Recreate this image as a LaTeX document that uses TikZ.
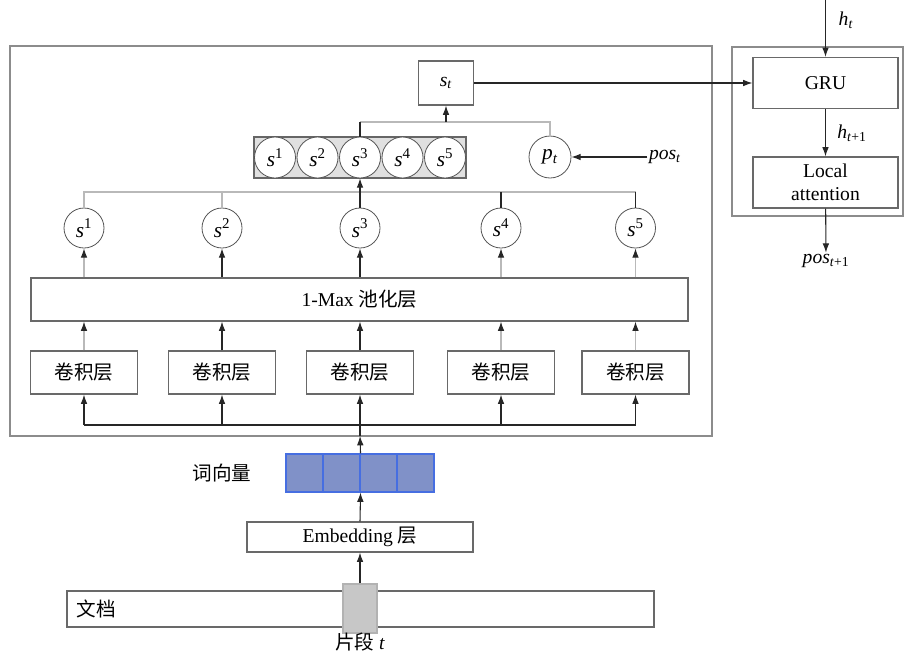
\documentclass[tikz,border=0pt]{standalone}
\usepackage{fontspec}
\setmainfont{Liberation Serif}
\newfontfamily\cjk{Noto Sans CJK SC}
\usepackage{tikz}
\usetikzlibrary{arrows.meta}
\newcommand{\sv}[1]{\textit{s}\textsuperscript{#1}}

\begin{document}
\begin{tikzpicture}[x=0.75pt,y=0.75pt,yscale=-1,xscale=1,
  font=\fontsize{14.7}{17}\selectfont,
  outerframe/.style={draw={rgb, 255:red, 140; green, 140; blue, 140 }, line width=1.1pt},
  layerbox/.style={draw={rgb, 255:red, 105; green, 105; blue, 105 }, line width=0.9pt, fill=white, inner sep=0pt},
  unit/.style={circle, draw={rgb, 255:red, 85; green, 85; blue, 85 }, line width=0.6pt, fill=white, minimum size=30pt, inner sep=0pt, font=\fontsize{16}{18}\selectfont},
  wvcell/.style={draw={rgb, 255:red, 70; green, 110; blue, 225 }, fill={rgb, 255:red, 128; green, 145; blue, 200 }, line width=0.8pt, minimum width=27.75pt, minimum height=28.5pt, inner sep=0pt},
  link/.style={draw=black!85, line width=0.8pt, -{Latex[length=7pt,width=5pt]}},
  faint/.style={draw={rgb, 255:red, 185; green, 185; blue, 185 }, line width=0.8pt},
  faintlink/.style={faint, -{Latex[length=7pt,width=5pt,color=black!85]}},
  plain/.style={draw=black!85, line width=0.8pt}
]
\useasboundingbox (0,0) rectangle (905,653);

%Shape: Rectangle [outer frames]
\draw [outerframe] (10,46) rectangle (712,436);
\draw [outerframe] (732,47) rectangle (903,216);

\coordinate (topbar) at (0,122);
\coordinate (midbar) at (0,192);
\coordinate (lowbar) at (0,425);

% Text Node
\node [layerbox, minimum width=41.25pt, minimum height=33pt] (st) at (446,83) {\textit{s}\textsubscript{\textit{t}}};

%Shape: Rectangle [concat]
\draw [draw=black!60, fill=black!12, line width=0.8pt] (254,137) rectangle (466,178);
\foreach \i/\x in {1/275,2/317.5,3/360,4/402.5,5/445}
  \node [unit, minimum size=30.75pt] (c\i) at (\x,157.5) {\sv{\i}};

\node [unit, minimum size=31.5pt] (pt) at (550,157) {\textit{p}\textsubscript{\textit{t}}};
\node [inner sep=1pt] (post) at (665,157) {\textit{pos}\textsubscript{\textit{t}}};

\foreach \i/\x in {1/84,2/222,3/360,4/501,5/635.5}
  \node [unit] (s\i) at (\x,228) {\sv{\i}};

% Text Node
\node [layerbox, minimum width=492.75pt, minimum height=32.25pt] (pool) at (359.5,299.5) {1-Max {\cjk 池化层}};

\foreach \i/\x in {1/84,2/222,3/360,4/501,5/635.5}
  \node [layerbox, minimum width=80.25pt, minimum height=32.25pt] (conv\i) at (\x,372.5) {\cjk 卷积层};

%Shape: word vector
\foreach \i/\x in {1/304.5,2/341.5,3/378.5,4/415.5}
  \node [wvcell] (wv\i) at (\x,473) {};
\node (wvlabel) at (222,473) {\cjk 词向量};

\node [layerbox, minimum width=169.5pt, minimum height=22.5pt] (emb) at (360,537) {Embedding {\cjk 层}};

\node [layerbox, minimum width=440.25pt, minimum height=27pt] (doc) at (360.5,609) {};
\node [anchor=west] (doclabel) at (72,609) {\cjk 文档};
\node [draw=black!30, fill=black!22, line width=0.8pt, minimum width=25.5pt, minimum height=36.75pt, inner sep=0pt] (seg) at (360,608.5) {};
\node [inner sep=0pt] (seglabel) at (360,642) {{\cjk 片段} \textit{t}};

% right part
\node [layerbox, minimum width=108.75pt, minimum height=38.25pt] (gru) at (825.5,83) {GRU};
\node [layerbox, minimum width=108.75pt, minimum height=38.25pt, align=center] (la) at (825.5,182.5) {Local\\attention};
\coordinate (htop) at (825.5,0);
\node (ht) at (846,20) {\textit{h}\textsubscript{\textit{t}}};
\node (hnext) at (852,133) {\textit{h}\textsubscript{\textit{t}+1}};
\node [inner sep=1pt] (posnext) at (826,261) {\textit{pos}\textsubscript{\textit{t}+1}};

\draw [link] (htop) -- (gru);
\draw [link] (gru) -- (la);
\draw [link] (la) -- (posnext);
\draw [link] (st) -- (gru);
\draw [link] (post) -- (pt);

% top junction
\draw [faint] (c3.north |- topbar) -- (pt.north |- topbar) -- (pt.north);
\draw [plain] (c3.north) -- (c3.north |- topbar);
\draw [link] (st.south |- topbar) -- (st.south);

% middle junction
\draw [faint] (s1.north) -- (s1.north |- midbar) -- (s5.north |- midbar);
\draw [faint] (s2.north) -- (s2.north |- midbar);
\foreach \i in {3,4,5}
  \draw [plain] (s\i.north) -- (s\i.north |- midbar);
\draw [link] (s3.north |- midbar) -- (c3.south);

% pooling and convolution
\foreach \i in {1,4,5} {
  \draw [faintlink] (s\i.south |- pool.north) -- (s\i.south);
  \draw [faintlink] (conv\i.north) -- (conv\i.north |- pool.south);
}
\foreach \i in {2,3} {
  \draw [link] (s\i.south |- pool.north) -- (s\i.south);
  \draw [link] (conv\i.north) -- (conv\i.north |- pool.south);
}

% input
\draw [plain] (conv1.south |- lowbar) -- (conv5.south |- lowbar);
\foreach \i in {1,...,5}
  \draw [link] (conv\i.south |- lowbar) -- (conv\i.south);
\coordinate (entry) at (360,436);
\draw [link] (wv2.north east) -- (entry);
\draw [plain] (entry) -- (entry |- lowbar);
\draw [link] (emb.north) -- (wv2.south east);
\draw [link] (seg.north) -- (emb.south);

\end{tikzpicture}
\end{document}
